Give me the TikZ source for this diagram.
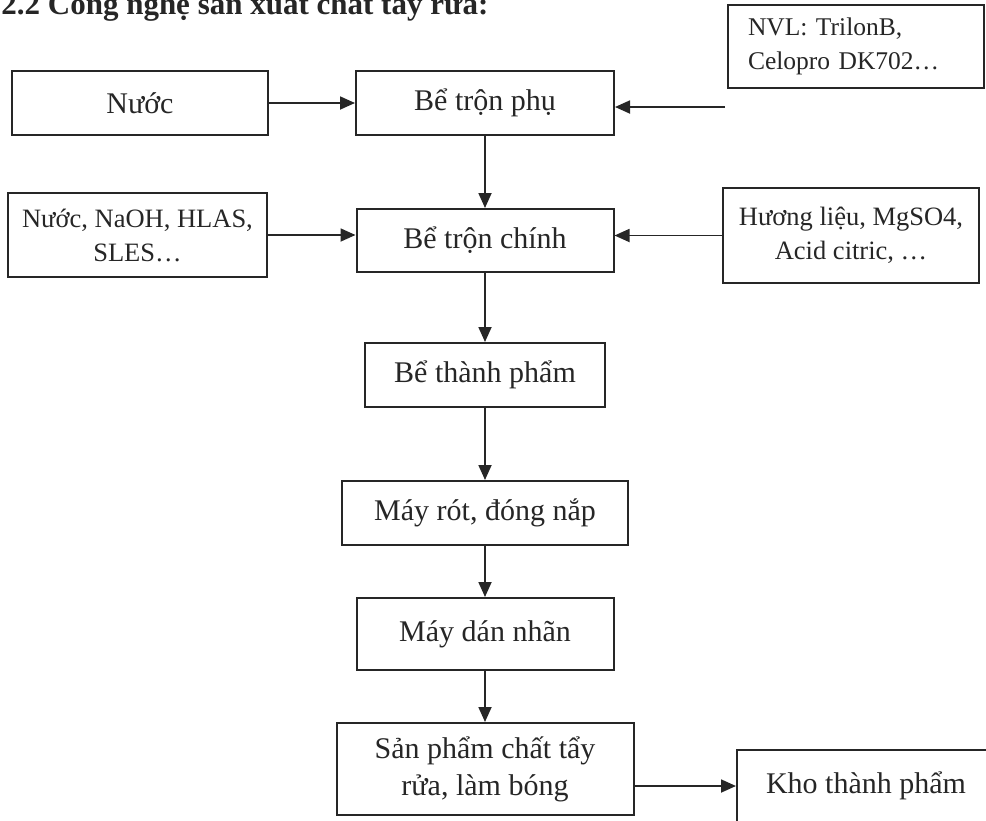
\documentclass[tikz,border=0pt]{standalone}
\usepackage{fontspec}
\setmainfont{Liberation Serif}
\usetikzlibrary{arrows.meta}
\begin{document}
\begin{tikzpicture}[x=0.5pt, y=-0.5pt, black!85,
   box/.style={draw, line width=1pt, inner sep=0pt, align=center, font=\fontsize{15}{18.5}\selectfont},
   side/.style={box, font=\fontsize{13.25}{17}\selectfont},
   arr/.style={line width=0.9pt, -{Triangle[length=7.5pt, width=6.5pt]}}]
   \useasboundingbox (0,0) rectangle (986,820);
   \node[anchor=base west, inner sep=0pt, font=\fontsize{15.5}{18}\selectfont\bfseries] (title) at (1,14) {2.2 Công nghệ sản xuất chất tẩy rửa:};
   \node[box, minimum width=128pt, minimum height=32pt] (nuoc) at (140,103) {Nước};
   \node[box, minimum width=129pt, minimum height=32pt] (trphu) at (485,103) {Bể trộn phụ};
   \node[side, align=left, font=\fontsize{12.75}{17}\selectfont, inner xsep=10pt, text width=108pt, minimum height=41.5pt] (nvl) at (856,46.5) {NVL: TrilonB,\\Celopro DK702…};
   \node[side, minimum width=129.5pt, minimum height=42pt] (nlieu) at (137.5,235) {Nước, NaOH, HLAS,\\SLES…};
   \node[box, minimum width=128.5pt, minimum height=31.5pt] (trchinh) at (485,240.5) {Bể trộn chính};
   \node[side, minimum width=128pt, minimum height=47.5pt] (huong) at (851,235.5) {Hương liệu, MgSO4,\\Acid citric, …};
   \node[box, minimum width=120pt, minimum height=32pt] (btp) at (485,375) {Bể thành phẩm};
   \node[box, minimum width=143pt, minimum height=32pt] (mayrot) at (485,513) {Máy rót, đóng nắp};
   \node[box, minimum width=128.5pt, minimum height=36pt] (dannhan) at (485,634) {Máy dán nhãn};
   \node[box, minimum width=148.5pt, minimum height=46pt] (sanpham) at (485,769) {Sản phẩm chất tẩy\\rửa, làm bóng};
   \node[box, minimum width=129pt, minimum height=36pt] (kho) at (866,786) {Kho thành phẩm};
   \coordinate (nvlin) at (725,107);
   \draw[arr] (nuoc) -- (trphu);
   \draw[arr] (nvlin) -- (nvlin -| trphu.east);
   \draw[arr] (trphu) -- (trchinh);
   \draw[arr] (nlieu.east) -- (nlieu.east -| trchinh.west);
   \draw[arr] (huong.west) -- (huong.west -| trchinh.east);
   \draw[arr] (trchinh) -- (btp);
   \draw[arr] (btp) -- (mayrot);
   \draw[arr] (mayrot) -- (dannhan);
   \draw[arr] (dannhan) -- (sanpham);
   \draw[arr] (kho.west -| sanpham.east) -- (kho.west);
\end{tikzpicture}
\end{document}
